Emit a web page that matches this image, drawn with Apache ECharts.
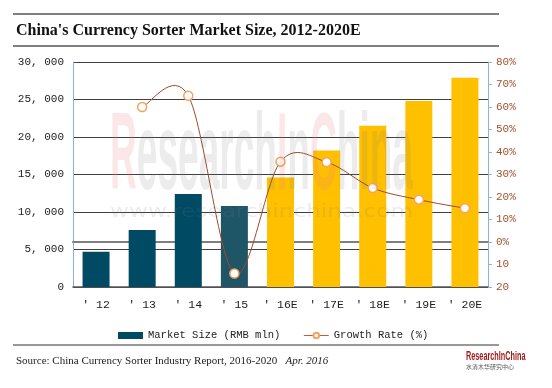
<!DOCTYPE html>
<html><head><meta charset="utf-8">
<script src="https://cdn.jsdelivr.net/npm/echarts@6/dist/echarts.min.js"></script>
<style>html,body{margin:0;padding:0;background:#fff}#c{width:552px;height:388px}</style>
</head><body><div id="c"></div>
<script>
var categories = ["\u2032 12","\u2032 13","\u2032 14","\u2032 15","\u2032 16E","\u2032 17E","\u2032 18E","\u2032 19E","\u2032 20E"];
var marketSize = [4700, 7600, 12400, 10800, 14600, 18200, 21500, 24800, 27900];
var growthRate = [null, 60, 65, -14, 35.7, 35.5, 24, 18.8, 15];
var leftTicks = ["0","5, 000","10, 000","15, 000","20, 000","25, 000","30, 000"];
var rightTicks = ["20","10","0%","10%","20%","30%","40%","50%","60%","70%","80%"];
var barColors = ["#004a64","#004a64","#004a64","#1e5668","#ffc000","#ffc000","#ffc000","#ffc000","#ffc000"];

function measure(text, font){
  var c = document.createElement('canvas').getContext('2d');
  c.font = font; return c.measureText(text).width;
}
var wmFont = 'bold 100px "Liberation Sans"';
var wmW = measure('ResearchInChina', wmFont);
var urlFont = '18px "DejaVu Sans"';
var urlW = measure('www.researchinchina.com', urlFont);

// Excel-like smoothed curve through the growth points, via the axis scales
function renderCurve(params, api){
  var pts = growthRate.map(function(v,i){ return v==null ? null : api.coord([i, v]); });
  var d = '';
  var segs = [], cur = [];
  pts.forEach(function(p){ if(p){cur.push(p);} else { if(cur.length) segs.push(cur); cur=[]; } });
  if(cur.length) segs.push(cur);
  segs.forEach(function(s){
    d += 'M' + s[0][0] + ' ' + s[0][1];
    for(var i=0;i<s.length-1;i++){
      var p0 = s[Math.max(i-1,0)], p1 = s[i], p2 = s[i+1], p3 = s[Math.min(i+2,s.length-1)];
      var c1x = p1[0] + (p2[0]-p0[0])/6, c1y = p1[1] + (p2[1]-p0[1])/6;
      var c2x = p2[0] - (p3[0]-p1[0])/6, c2y = p2[1] - (p3[1]-p1[1])/6;
      d += ' C' + c1x + ' ' + c1y + ' ' + c2x + ' ' + c2y + ' ' + p2[0] + ' ' + p2[1];
    }
  });
  return {type:'path', shape:{pathData:d}, style:{fill:'none', stroke:'#9c4a2a', lineWidth:1}};
}

var chart = echarts.init(document.getElementById('c'));
var mono = '"Liberation Mono"';
chart.setOption({
  animation:false,
  grid:{left:73,right:64,top:62,bottom:101},
  legend:{
    left:113, top:325, itemGap:23, itemWidth:25, itemHeight:7,
    textStyle:{fontFamily:mono,fontSize:10.5,color:'#222'},
    data:[{name:'Market Size (RMB mln)',icon:'rect',itemStyle:{color:'#004a64'}},
          {name:'Growth Rate (%)',lineStyle:{color:'#c0603a',width:1,opacity:1}}]
  },
  xAxis:[{
    type:'category', data:categories,
    axisLine:{lineStyle:{color:'#555',width:1.5}},
    axisTick:{show:false},
    axisLabel:{fontFamily:mono,fontSize:11.5,color:'#222',margin:12}
  },{
    type:'category', data:categories, position:'top',
    axisLine:{lineStyle:{color:'#7f7f7f',width:2}},
    axisTick:{show:false}, axisLabel:{show:false}
  }],
  yAxis:[{
    type:'value', min:0, max:30000, interval:5000,
    axisLine:{show:true,lineStyle:{color:'#8ab4e0',width:1}},
    axisTick:{show:false},
    splitLine:{lineStyle:{color:'#404040',width:1}},
    axisLabel:{fontFamily:mono,fontSize:11,color:'#222',margin:9,
      formatter:function(v){return leftTicks[Math.round(v/5000)];}}
  },{
    type:'value', min:-20, max:80, interval:10, position:'right',
    axisLine:{show:true,lineStyle:{color:'#8ab4e0',width:1}},
    axisTick:{show:true,length:4,lineStyle:{color:'#8ab4e0'}},
    splitLine:{show:false},
    axisLabel:{fontFamily:mono,fontSize:11,color:'#a0522d',margin:8,
      formatter:function(v){return rightTicks[Math.round((v+20)/10)];}}
  }],
  series:[{
    name:'Market Size (RMB mln)', type:'bar', barWidth:27, z:2,
    data:marketSize.map(function(v,i){return {value:v,itemStyle:{color:barColors[i]}};})
  },{
    type:'custom', yAxisIndex:1, z:4, silent:true, renderItem:renderCurve, data:[[0, 0]]
  },{
    name:'Growth Rate (%)', type:'line', yAxisIndex:1, z:5,
    symbol:'circle', symbolSize:9, connectNulls:false,
    lineStyle:{color:'#9c4a2a',width:1,opacity:0},
    itemStyle:{color:'#fff',borderColor:'#f4a460',borderWidth:1.5},
    data:growthRate
  }],
  graphic:[
    {type:'line',shape:{x1:13,y1:14,x2:499,y2:14},style:{stroke:'#808080',lineWidth:2}},
    {type:'line',shape:{x1:13,y1:46,x2:499,y2:46},style:{stroke:'#808080',lineWidth:2}},
    {type:'text',left:16,top:23,style:{text:"China's Currency Sorter Market Size, 2012-2020E",font:'bold 16px "Liberation Serif"',fill:'#111'}},
    {type:'line',shape:{x1:13,y1:345,x2:499,y2:345},style:{stroke:'#333',lineWidth:1}},
    {type:'text',left:16,top:356,style:{rich:{a:{fontFamily:'Liberation Serif',fontSize:11,fill:'#222'},b:{fontFamily:'Liberation Serif',fontSize:11,fontStyle:'italic',fill:'#222'}},text:'{a|Source: China Currency Sorter Industry Report, 2016-2020}{a|   }{b|Apr. 2016}'}},
    {type:'text',x:466,y:350,scaleX:0.56,style:{text:'ResearchInChina',font:'bold 13px "Liberation Sans"',fill:'#a31b1b'}},
    {type:'text',x:466,y:364,style:{text:'水清木华研究中心',font:'6px "Noto Sans CJK SC"',fill:'#555'}},
    {type:'text',z:100,x:110,y:104,scaleX:303/wmW,scaleY:1.1,style:{font:wmFont,text:'{r|R}{g|esearch}{r|I}{g|n}{r|C}{g|hina}',
      rich:{r:{font:wmFont,fill:'rgba(235,120,120,0.18)'},g:{font:wmFont,fill:'rgba(120,120,120,0.14)'}}}},
    {type:'text',z:100,x:110,y:203,scaleX:303/urlW,style:{text:'www.researchinchina.com',font:urlFont,fill:'rgba(120,120,120,0.15)'}}
  ]
});
</script></body></html>
